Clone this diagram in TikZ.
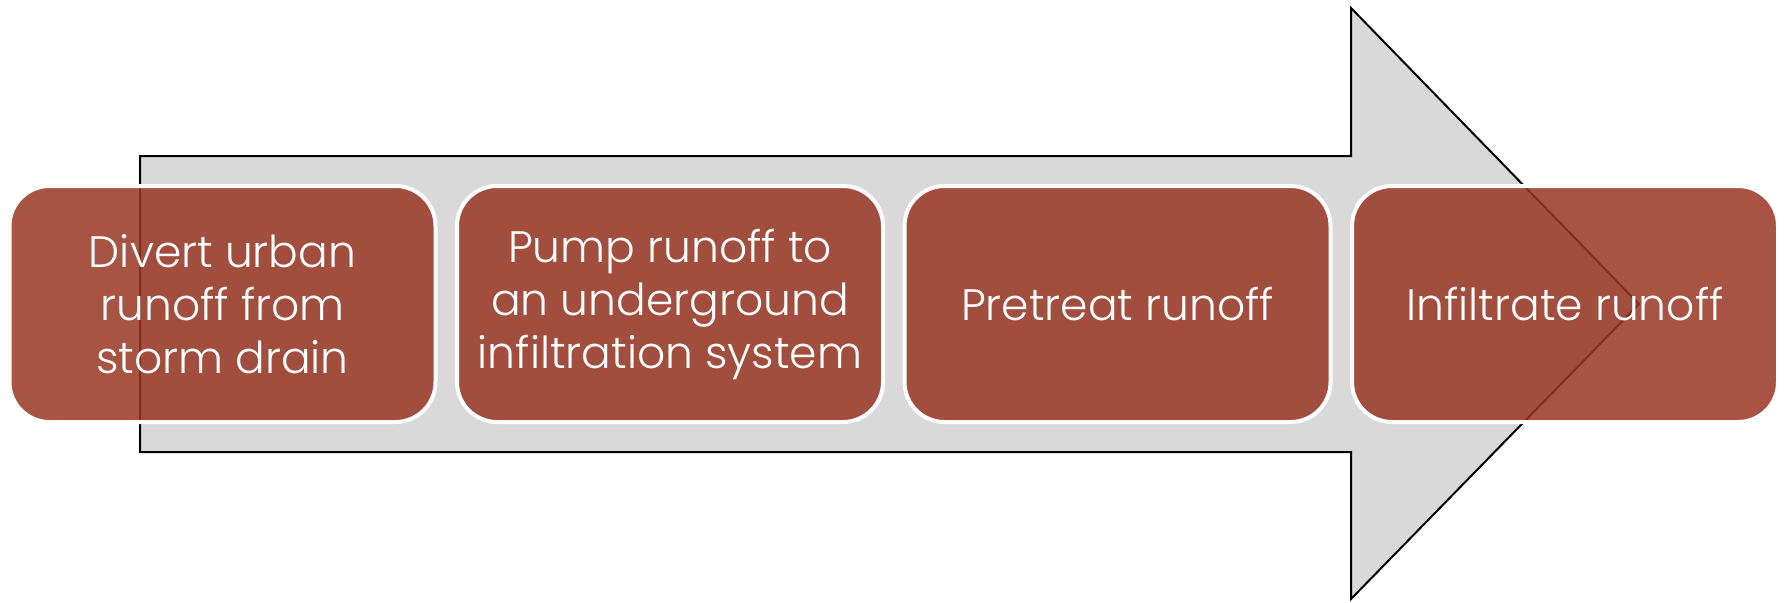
\documentclass[tikz,border=0pt]{standalone}
\usepackage{fontspec}
\IfFontExistsTF{Poppins Light}{\setmainfont{Poppins Light}}{\setmainfont{Poppins}}
\usepackage{xcolor}
\usetikzlibrary{positioning}
\definecolor{RUNbrick}{RGB}{153,54,36}
\definecolor{RUNgrey}{RGB}{217,217,217}
\tikzstyle{sbox}  = [rectangle, rounded corners=20pt, draw=white, line width=2pt,
                     fill=RUNbrick, fill opacity=0.85, text opacity=1, text=white,
                     minimum width=213pt, minimum height=118pt,
                     align=center, font=\fontsize{22}{26.5}\selectfont]
\tikzstyle{bigarrow} = [fill=RUNgrey, draw=black, line width=1pt]

\begin{document}
\begin{tikzpicture}[x=0.5pt, y=-0.5pt, node distance=8.75pt]
  \useasboundingbox (0,0) rectangle (1785,602);
  % grey arrow behind the steps
  \draw[bigarrow] (140,156) -- (1351,156) -- (1351,8) -- (1639,304)
                  -- (1351,599) -- (1351,452) -- (140,452) -- cycle;

  \node[sbox] (divert) at (222.5,304) {Divert urban\\runoff from\\storm drain};
  \node[sbox, right=of divert] (pump)   {Pump runoff to\\an underground\\infiltration system};
  \node[sbox, right=of pump]   (pretreat) {Pretreat runoff};
  \node[sbox, right=of pretreat] (infil) {Infiltrate runoff};
\end{tikzpicture}
\end{document}
